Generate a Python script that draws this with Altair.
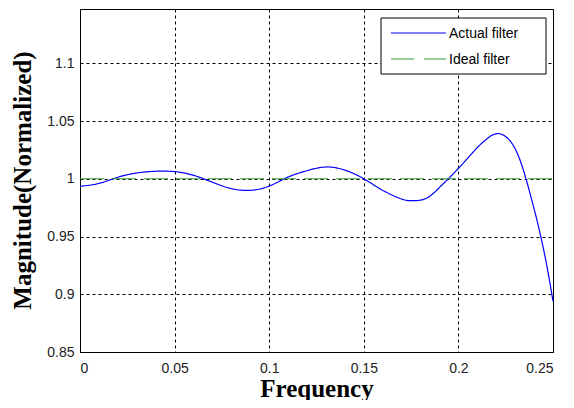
import altair as alt
import pandas as pd

freq = [0.0, 0.01, 0.02, 0.03, 0.04, 0.05, 0.06, 0.07, 0.08, 0.09, 0.10, 0.11, 0.12, 0.13,
        0.14, 0.15, 0.16, 0.17, 0.175, 0.18, 0.185, 0.19, 0.195, 0.20, 0.205, 0.21, 0.215,
        0.22, 0.225, 0.23, 0.235, 0.24, 0.2425, 0.245, 0.2475, 0.25]
actual = [0.9935, 0.996, 1.0013, 1.005, 1.0065, 1.0062, 1.003, 0.997, 0.9915, 0.990, 0.9937,
          1.0015, 1.007, 1.0102, 1.0075, 1.0, 0.990, 0.9825, 0.981, 0.9815, 0.985, 0.9925,
          1.0005, 1.009, 1.018, 1.027, 1.0345, 1.039, 1.0365, 1.026, 1.004, 0.974, 0.9575,
          0.939, 0.918, 0.894]
ideal_freq = [0.0, 0.25]
ideal = [1.0, 1.0]

series = ["Actual filter", "Ideal filter"]
colors = ["#0000ff", "#3c9e3c"]
x_ticks = [0, 0.05, 0.1, 0.15, 0.2, 0.25]
y_ticks = [0.85, 0.9, 0.95, 1.0, 1.05, 1.1]

df = pd.concat([
    pd.DataFrame({"f": freq, "m": actual, "s": series[0]}),
    pd.DataFrame({"f": ideal_freq, "m": ideal, "s": series[1]}),
])

W, H = 473, 343

lines = alt.Chart(df).mark_line(strokeWidth=1.2, interpolate="natural").encode(
    x=alt.X("f:Q", title="Frequency",
            scale=alt.Scale(domain=[0, 0.25], nice=False, zero=False),
            axis=alt.Axis(values=x_ticks, format="~g")),
    y=alt.Y("m:Q", title="Magnitude(Normalized)",
            scale=alt.Scale(domain=[0.85, 1.147], nice=False, zero=False),
            axis=alt.Axis(values=y_ticks, format="~g")),
    color=alt.Color("s:N", scale=alt.Scale(domain=series, range=colors), legend=None),
    strokeDash=alt.StrokeDash("s:N", scale=alt.Scale(domain=series, range=[[1, 0], [24, 8]]),
                              legend=None),
    order=alt.Order("f:Q"),
)

# legend box drawn as a small overlay (top-right corner of the plot)
bx0, bx1 = W - 172, W - 7
box = alt.Chart(pd.DataFrame({"a": [0]})).mark_rect(
    fill="white", stroke="black", strokeWidth=1
).encode(x=alt.value(bx0), x2=alt.value(bx1), y=alt.value(9), y2=alt.value(65))
leg_line1 = alt.Chart(pd.DataFrame({"a": [0]})).mark_rule(color=colors[0], strokeWidth=1.2).encode(
    x=alt.value(bx0 + 10), x2=alt.value(bx0 + 65), y=alt.value(24))
leg_line2 = alt.Chart(pd.DataFrame({"a": [0]})).mark_rule(color=colors[1], strokeWidth=1.2,
                                                         strokeDash=[23, 10]).encode(
    x=alt.value(bx0 + 10), x2=alt.value(bx0 + 65), y=alt.value(50))
leg_text1 = alt.Chart(pd.DataFrame({"t": [series[0]]})).mark_text(
    align="left", baseline="middle", font="Liberation Sans", fontSize=14, color="black"
).encode(x=alt.value(bx0 + 68), y=alt.value(25), text="t:N")
leg_text2 = alt.Chart(pd.DataFrame({"t": [series[1]]})).mark_text(
    align="left", baseline="middle", font="Liberation Sans", fontSize=14, color="black"
).encode(x=alt.value(bx0 + 68), y=alt.value(51), text="t:N")

chart = alt.layer(lines, box, leg_line1, leg_line2, leg_text1, leg_text2).properties(
    width=W, height=H,
    autosize=alt.AutoSizeParams(type="none"),
    padding={"left": 72, "top": 1, "right": 13, "bottom": 48},
).configure_view(
    stroke="black", strokeWidth=1
).configure_axis(
    grid=True, gridColor="black", gridDash=[3, 3], gridOpacity=1, gridWidth=1,
    ticks=False, domain=False,
    labelFont="Liberation Sans", labelFontSize=14, labelColor="#222222",
    titleFont="Liberation Serif", titleFontSize=25, titleFontWeight="bold", titleColor="black",
).configure_axisX(
    labelPadding=9, titleY=44, titleBaseline="alphabetic", titleX=W / 2
).configure_axisY(
    labelPadding=6, titleX=-58, titleY=171, titleBaseline="middle", titleAngle=270
)

chart.save("out.html", embed_options={"renderer": "svg", "actions": False})
